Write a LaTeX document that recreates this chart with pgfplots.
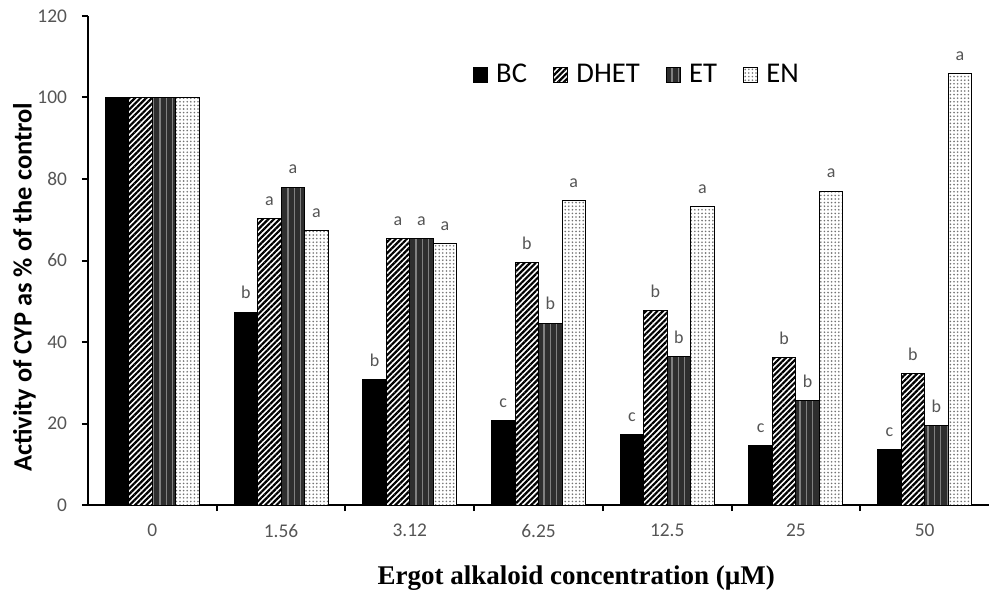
\documentclass[border=0pt]{standalone}
\usepackage{fontspec}
\setmainfont{Carlito}
\newfontfamily\timesfont{Liberation Serif}
\usepackage{pgfplots}
\pgfplotsset{compat=1.18}
\usetikzlibrary{patterns.meta}
\definecolor{ticktext}{HTML}{555555}
\begin{document}
\begin{tikzpicture}[x=1pt,y=1pt]
\useasboundingbox (-44,-45) rectangle (450.5,252.5);
\begin{axis}[
  at={(0,0)}, anchor=south west, scale only axis,
  width=450.5pt, height=244.5pt,
  xmin=-0.5, xmax=6.5, ymin=0, ymax=120,
  axis x line*=bottom, axis y line*=left,
  axis line style={-, line width=1.1pt, black},
  ytick={0,20,...,120},
  xtick={0,...,6},
  xticklabels={0,1.56,3.12,6.25,12.5,25,50},
  minor xtick={0.5,1.5,...,5.5},
  major x tick style={draw=none},
  minor x tick style={line width=1pt, black},
  y tick style={line width=1pt, black},
  tick align=outside,
  major tick length=3pt, minor tick length=3pt,
  ticklabel style={font=\fontsize{9.7}{11}\selectfont, text=ticktext},
  /pgf/number format/assume math mode=true,
  xticklabel style={yshift=-3pt},
  yticklabel style={xshift=-4pt},
  ylabel={\bfseries Activity of CYP as \% of the control},
  xlabel={\timesfont\bfseries Ergot alkaloid concentration (µM)},
  every axis y label/.style={at={(axis description cs:-0.0705,0.445)}, rotate=90, anchor=center, font=\fontsize{13.2}{15}\selectfont},
  every axis x label/.style={at={(axis description cs:0.542,0)}, anchor=center, yshift=-36.5pt, font=\fontsize{13.5}{15}\selectfont},
  ybar=0pt, bar width=11.75pt,
  nodes near coords,
  point meta=explicit symbolic,
  nodes near coords style={font=\fontsize{9}{10}\selectfont, text=ticktext, anchor=south, yshift=3pt},
  legend style={at={(axis description cs:0.42,0.879)}, anchor=west, draw=none, fill=none,
    font=\fontsize{14.3}{16}\selectfont,
    /tikz/every odd column/.append style={column sep=2pt},
    /tikz/every even column/.append style={column sep=11pt}},
  legend columns=-1,
  legend image code/.code={\draw[#1, draw=black, line width=0.5pt] (0pt,-3.6pt) rectangle (7.2pt,3.6pt);},
]
\addplot[draw=black, line width=0.5pt, fill=black] coordinates {
  (0,100) [{}] (1,47.3) [b] (2,30.8) [b] (3,20.7) [c] (4,17.2) [c] (5,14.5) [c] (6,13.5) [c]};
\addplot[draw=black, line width=0.5pt, fill=white,
  postaction={pattern={Lines[angle=45,distance=2pt,line width=1.1pt]}, pattern color=black}] coordinates {
  (0,100) [{}] (1,70.2) [a] (2,65.4) [a] (3,59.5) [b] (4,47.7) [b] (5,36.2) [b] (6,32.3) [b]};
\addplot[draw=black, line width=0.5pt, fill=black!82,
  postaction={pattern={Lines[angle=90,distance=3.2pt,line width=0.6pt]}, pattern color=black!50}] coordinates {
  (0,100) [{}] (1,78.0) [a] (2,65.4) [a] (3,44.6) [b] (4,36.4) [b] (5,25.6) [b] (6,19.4) [b]};
\addplot[draw=black, line width=0.5pt, fill=white,
  postaction={pattern={Dots[distance=1.8pt,radius=0.45pt]}, pattern color=black!55}] coordinates {
  (0,100) [{}] (1,67.3) [a] (2,64.2) [a] (3,74.7) [a] (4,73.2) [a] (5,77.0) [a] (6,105.8) [a]};
\legend{BC,DHET,ET,EN}
\end{axis}
\end{tikzpicture}
\end{document}
